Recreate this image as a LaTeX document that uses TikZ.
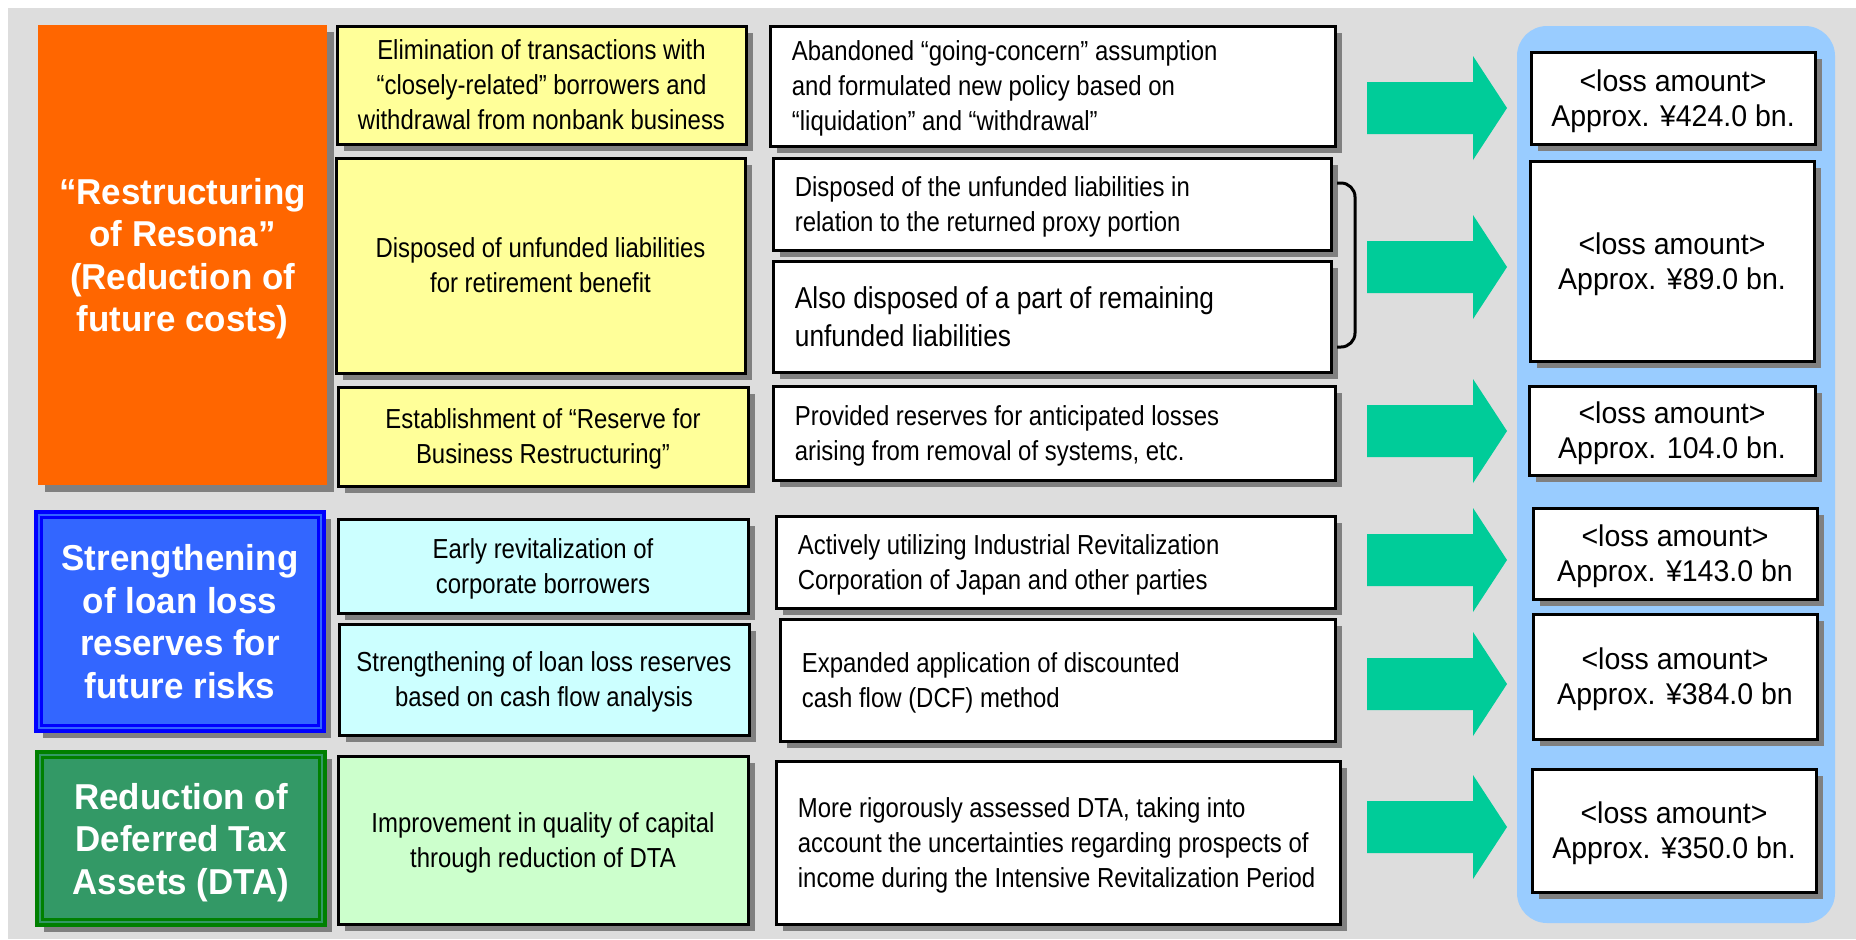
\documentclass[tikz,border=0pt]{standalone}
\usepackage{fontspec}
\setmainfont{Liberation Sans}[FakeStretch=0.87]
\newfontfamily\titlefont{Liberation Sans}[FakeStretch=0.97]
\newfontfamily\lossfont{Liberation Sans}[FakeStretch=0.95]
\usetikzlibrary{shadows}
\definecolor{bggray}{HTML}{DDDDDD}
\definecolor{shgray}{HTML}{808080}
\definecolor{orangebox}{HTML}{FF6600}
\definecolor{bluebox}{HTML}{3366FF}
\definecolor{blueline}{HTML}{0000FF}
\definecolor{greenbox}{HTML}{339966}
\definecolor{greenline}{HTML}{008000}
\definecolor{yellowbox}{HTML}{FFFF99}
\definecolor{cyanbox}{HTML}{CCFFFF}
\definecolor{lgreenbox}{HTML}{CCFFCC}
\definecolor{arrowteal}{HTML}{00CC99}
\definecolor{panelblue}{HTML}{99CCFF}

% #1 style, #2 name, #3 x1, #4 y1, #5 x2, #6 y2, #7 text
\newcommand{\pbox}[7]{%
  \pgfmathsetmacro\pbw{(#5-#3)*0.5}%
  \pgfmathsetmacro\pbh{(#6-#4)*0.5}%
  \pgfmathsetmacro\pbx{(#3+#5)/2}%
  \pgfmathsetmacro\pby{(#4+#6)/2}%
  \node[#1, minimum width=\pbw pt, minimum height=\pbh pt] (#2) at (\pbx,\pby) {#7};}
% white box with left-aligned text: #1 name, #2..#5 corners, #6 extra text style, #7 text
\newcommand{\wbox}[7]{%
  \pbox{whitebox}{#1}{#2}{#3}{#4}{#5}{}%
  \node[wtext,#6] (#1t) at ([xshift=11.5pt]#1.west) {#7};}
% block arrow centred at y=#1
\newcommand{\tealarrow}[1]{%
  \fill[arrowteal] (1367,{#1-26}) -- (1473,{#1-26}) -- (1473,{#1-52}) -- (1507,#1)
    -- (1473,{#1+52}) -- (1473,{#1+26}) -- (1367,{#1+26}) -- cycle;}

\begin{document}
\begin{tikzpicture}[x=0.5pt,y=-0.5pt,
  shadowed/.style={drop shadow={shadow xshift=3.5pt,shadow yshift=-3.5pt,fill=shgray,opacity=1}},
  basebox/.style={draw=black, line width=1.5pt, shadowed, inner sep=0pt, text depth=0pt},
  midtext/.style={align=center, font=\fontsize{13.75}{17.5}\selectfont},
  yellowstep/.style={basebox, fill=yellowbox, midtext},
  cyanstep/.style={basebox, fill=cyanbox, midtext},
  lgreenstep/.style={basebox, fill=lgreenbox, midtext},
  whitebox/.style={basebox, fill=white},
  wtext/.style={anchor=west, align=left, inner sep=0pt, text depth=0pt, font=\fontsize{13.75}{17.5}\selectfont},
  lossbox/.style={basebox, fill=white, align=center, font=\lossfont\fontsize{15}{17.5}\selectfont},
  titlebox/.style={shadowed, inner sep=0pt, text depth=0pt, align=center, text=white,
    font=\titlefont\bfseries\fontsize{18}{21.25}\selectfont},
  panel/.style={fill=panelblue, rounded corners=15pt, inner sep=0pt},
]
\useasboundingbox (0,0) rectangle (1856,939);
\fill[bggray] (8,8) rectangle (1856,939);

% right-hand panel
\pbox{panel}{panel}{1517}{26}{1835}{923}{}

% block arrows
\tealarrow{108}
\tealarrow{267}
\tealarrow{431}
\tealarrow{560}
\tealarrow{684}
\tealarrow{827}

% left column
\pbox{titlebox, fill=orangebox}{restr}{38}{25}{327}{485}{“Restructuring\\of Resona”\\(Reduction of\\future costs)}
\pbox{titlebox, fill=bluebox, draw=blueline, line width=1.6pt}{strength}{36}{512}{324}{731}{Strengthening\\of loan loss\\reserves for\\future risks}
\draw[blueline, line width=1.3pt] ([shift={(3.5pt,-3.5pt)}]strength.north west) rectangle ([shift={(-3.5pt,3.5pt)}]strength.south east);
\pbox{titlebox, fill=greenbox, draw=greenline, line width=1.6pt}{dta}{37}{752}{325}{925}{Reduction of\\Deferred Tax\\Assets (DTA)}
\draw[greenline, line width=1.3pt] ([shift={(3.5pt,-3.5pt)}]dta.north west) rectangle ([shift={(-3.5pt,3.5pt)}]dta.south east);

% second column
\pbox{yellowstep}{y1}{337}{26}{746}{144}{Elimination of transactions with\\“closely-related” borrowers and\\withdrawal from nonbank business}
\pbox{yellowstep}{y2}{336}{158}{745}{373}{Disposed of unfunded liabilities\\for retirement benefit}
\pbox{yellowstep}{y3}{338}{387}{748}{486}{Establishment of “Reserve for\\Business Restructuring”}
\pbox{cyanstep}{c1}{338}{519}{748}{613}{Early revitalization of\\corporate borrowers}
\pbox{cyanstep}{c2}{339}{624}{749}{735}{Strengthening of loan loss reserves\\based on cash flow analysis}
\pbox{lgreenstep}{g2}{338}{756}{748}{924}{Improvement in quality of capital\\through reduction of DTA}

% third column
\wbox{w1}{770}{26}{1335}{146}{}{Abandoned “going-concern” assumption\\and formulated new policy based on\\“liquidation” and “withdrawal”}
\wbox{w2a}{773}{158}{1331}{250}{}{Disposed of the unfunded liabilities in\\relation to the returned proxy portion}
\wbox{w2b}{773}{261}{1331}{372}{font=\fontsize{15.1}{19}\selectfont}{Also disposed of a part of remaining\\unfunded liabilities}
\wbox{w3}{773}{386}{1335}{480}{}{Provided reserves for anticipated losses\\arising from removal of systems, etc.}
\wbox{w4}{776}{516}{1335}{608}{}{Actively utilizing Industrial Revitalization\\Corporation of Japan and other parties}
\wbox{w5}{780}{619}{1335}{741}{}{Expanded application of discounted\\cash flow (DCF) method}
\wbox{w6}{776}{761}{1340}{924}{}{More rigorously assessed DTA, taking into\\account the uncertainties regarding prospects of\\income during the Intensive Revitalization Period}

% bracket joining the two retirement-benefit boxes
\coordinate (brtop) at (1337,183);
\coordinate (brbot) at (1337,347);
\draw[line width=1.5pt, rounded corners=7pt] (brtop) -- (1355,183) -- (1355,347) -- (brbot);

% loss amounts
\pbox{lossbox}{l1}{1531}{52}{1815}{144}{<loss amount>\\Approx. ¥424.0 bn.}
\pbox{lossbox}{l2}{1530}{161}{1814}{361}{<loss amount>\\Approx. ¥89.0 bn.}
\pbox{lossbox}{l3}{1529}{386}{1815}{475}{<loss amount>\\Approx. 104.0 bn.}
\pbox{lossbox}{l4}{1533}{508}{1817}{599}{<loss amount>\\Approx. ¥143.0 bn}
\pbox{lossbox}{l5}{1533}{614}{1817}{739}{<loss amount>\\Approx. ¥384.0 bn}
\pbox{lossbox}{l6}{1532}{769}{1816}{892}{<loss amount>\\Approx. ¥350.0 bn.}
\end{tikzpicture}
\end{document}
